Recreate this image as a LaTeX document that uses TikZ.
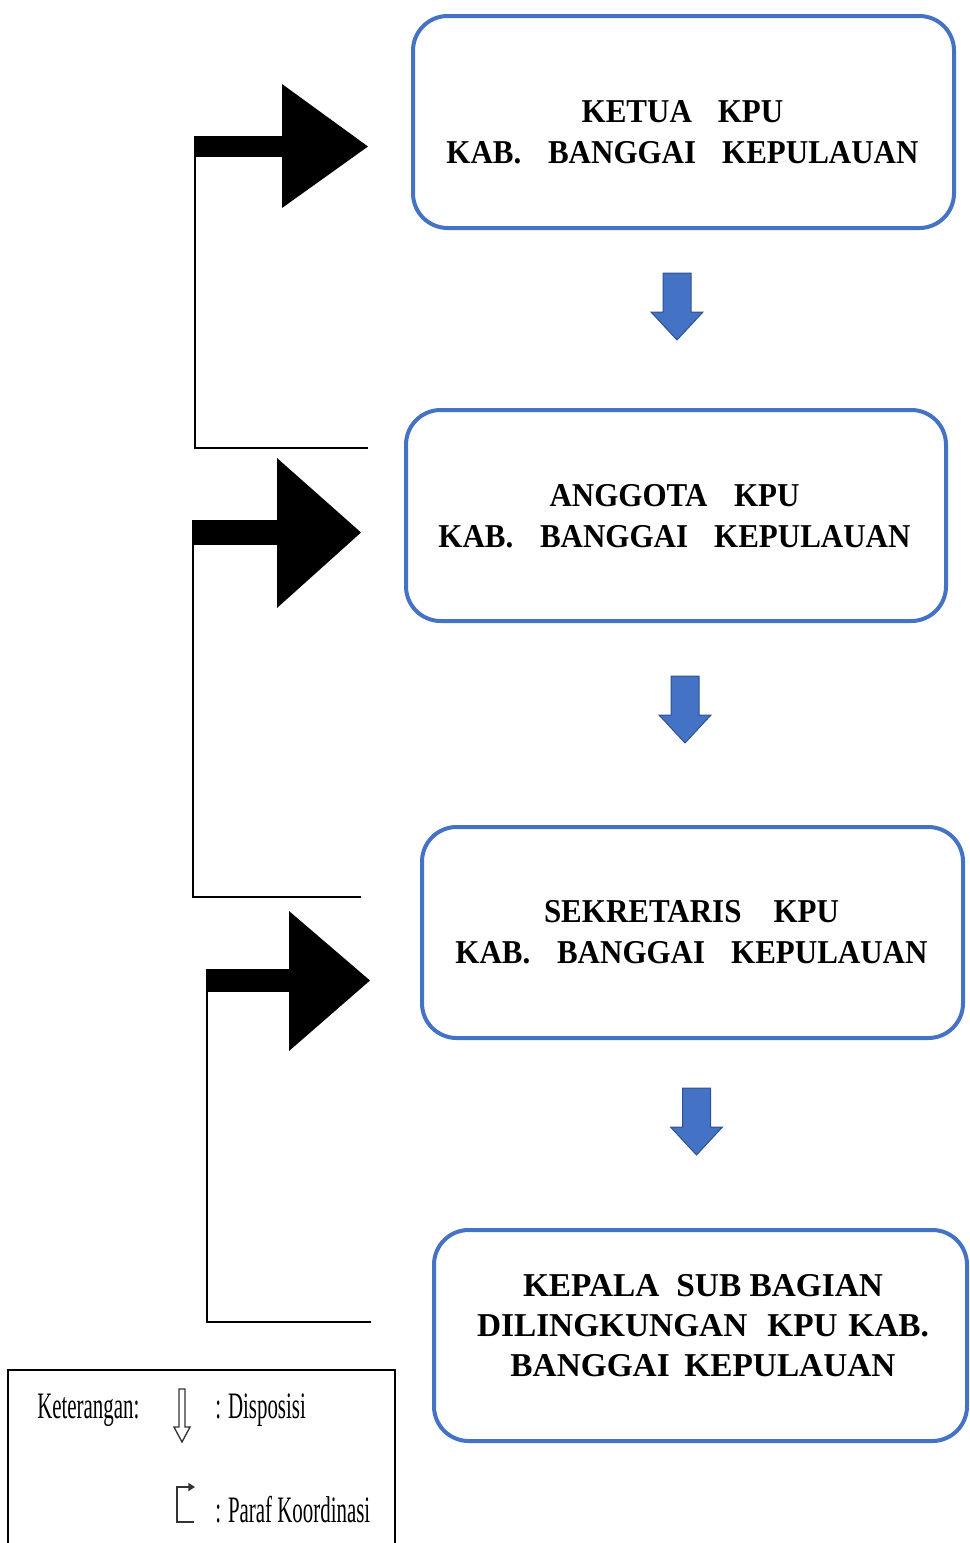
\documentclass[tikz,border=0pt]{standalone}
\usepackage{fontspec}
\usetikzlibrary{arrows.meta}
\newfontfamily\boxfont[FakeStretch=0.93]{Liberation Serif}
\newfontfamily\boxwidefont[FakeStretch=1.0]{Liberation Serif}
\newfontfamily\legfont[FakeStretch=0.56]{Liberation Serif}
\definecolor{kpublue}{HTML}{4472C4}
\definecolor{kpudark}{HTML}{2F528F}
\newcommand\gp[1]{\hspace*{#1pt}}
\begin{document}
\begin{tikzpicture}[x=0.75pt,y=-0.75pt,
  box/.style={draw=kpublue,line width=3pt,rounded corners=26pt,inner sep=0pt},
  boxtext/.style={align=center,inner sep=0pt,font=\boxfont\bfseries\fontsize{25}{30.75}\selectfont},
  bluearrow/.style={fill=kpublue,draw=kpudark,line width=0.75pt,line join=miter},
  bracketline/.style={draw=black,line width=1.5pt},
  blackhead/.style={fill=black},
  legtext/.style={anchor=base west,inner sep=0pt,font=\legfont\fontsize{28}{30}\selectfont},
  legline/.style={draw=black!80,line width=1pt}
]
\useasboundingbox (0,0) rectangle (970,1543);

% boxes
\node[box,minimum width=405.75pt,minimum height=159pt] (b1) at (683.5,122) {};
\node[boxtext] (t1) at (682.5,132.5) {KETUA\gp{19.5}KPU\\KAB.\gp{20}BANGGAI\gp{19.5}KEPULAUAN};
\node[box,minimum width=405pt,minimum height=158.25pt] (b2) at (676,515.5) {};
\node[boxtext] (t2) at (674.5,516.5) {ANGGOTA\gp{20}KPU\\KAB.\gp{20}BANGGAI\gp{19.5}KEPULAUAN};
\node[box,minimum width=405.75pt,minimum height=158.25pt] (b3) at (692.5,932.5) {};
\node[boxtext] (t3) at (691.5,932.5) {SEKRETARIS\gp{24}KPU\\KAB.\gp{20}BANGGAI\gp{19.5}KEPULAUAN};
\node[box,minimum width=399.75pt,minimum height=158.25pt] (b4) at (700.5,1335.5) {};
\node[boxtext,font=\boxwidefont\bfseries\fontsize{25}{30}\selectfont] (t4) at (703,1325.5) {KEPALA\gp{12.75}SUB BAGIAN\\DILINGKUNGAN\gp{15}KPU\gp{8}KAB.\\BANGGAI\gp{11}KEPULAUAN};

% blue disposition arrows
\draw[bluearrow] (677,273) ++(-14,0) -- ++(28,0) -- ++(0,39) -- ++(12,0) -- ++(-26,28) -- ++(-26,-28) -- ++(12,0) -- cycle;
\draw[bluearrow] (685,676) ++(-14,0) -- ++(28,0) -- ++(0,39) -- ++(12,0) -- ++(-26,28) -- ++(-26,-28) -- ++(12,0) -- cycle;
\draw[bluearrow] (696.5,1088) ++(-14,0) -- ++(28,0) -- ++(0,39) -- ++(12,0) -- ++(-26,28) -- ++(-26,-28) -- ++(12,0) -- cycle;

% coordination brackets
\coordinate (s1) at (368,448);
\coordinate (k1) at (195,146.5);
\draw[bracketline] (s1) -- (s1 -| k1) -- (k1);
\fill[blackhead] (194,136) rectangle (283,157);
\fill[blackhead] (282,84) -- (368,146.5) -- (282,208) -- cycle;

\coordinate (s2) at (361,897);
\coordinate (k2) at (193,532.5);
\draw[bracketline] (s2) -- (s2 -| k2) -- (k2);
\fill[blackhead] (192,520) rectangle (278,545);
\fill[blackhead] (277,458) -- (361,532.5) -- (277,608) -- cycle;

\coordinate (s3) at (371,1322);
\coordinate (k3) at (207,980.5);
\draw[bracketline] (s3) -- (s3 -| k3) -- (k3);
\fill[blackhead] (206,969) rectangle (290,992);
\fill[blackhead] (289,911) -- (370,980.5) -- (289,1051) -- cycle;

% legend
\draw[line width=1.5pt] (8,1550) -- (8,1370) -- (395,1370) -- (395,1550);
\node[legtext] (lk) at (37,1418) {Keterangan:};
\node[legtext] (ld) at (215,1418) {: Disposisi};
\node[legtext] (lp) at (215,1522) {: Paraf Koordinasi};
\draw[legline,fill=white] (179,1389) -- (185,1389) -- (185,1427) -- (190,1427) -- (182,1442) -- (174,1427) -- (179,1427) -- cycle;
\draw[legline,line width=1.2pt,-{Triangle[length=5pt,width=6pt]}] (194,1522) -- (177,1522) -- (177,1487) -- (195,1487);
\end{tikzpicture}
\end{document}
